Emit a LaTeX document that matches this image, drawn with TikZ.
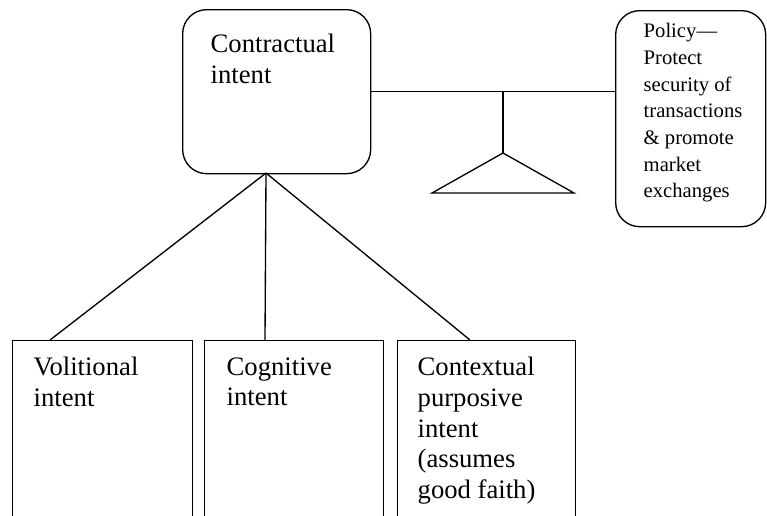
\documentclass[tikz,border=0pt]{standalone}
\usepackage{fontspec}
\setmainfont{Liberation Serif}
\begin{document}
\begin{tikzpicture}[x=0.75pt,y=-0.75pt,line width=1pt,
  rbox/.style={draw,rounded corners=18pt,inner sep=0pt,anchor=north west},
  sbox/.style={draw,inner sep=0pt,anchor=north west,minimum height=150pt},
  big/.style={font=\fontsize{20}{22.9}\selectfont,align=left,anchor=north west,inner sep=0pt},
  small/.style={font=\fontsize{15.5}{20}\selectfont,align=left,anchor=north west,inner sep=0pt}]
\useasboundingbox (0,0) rectangle (767,515);
\clip (0,0) rectangle (767,515);
% boxes
\node[rbox,minimum width=141pt,minimum height=123pt] (ci) at (182,9) {};
\node[rbox,minimum width=112.5pt,minimum height=162pt] (pol) at (615,10) {};
\node[sbox,minimum width=135pt] (vol) at (12,340) {};
\node[sbox,minimum width=134.25pt] (cog) at (204,340) {};
\node[sbox,minimum width=133.5pt] (ctx) at (397,340) {};
% texts
\node[big] (cit) at (210,33.8) {Contractual\\intent};
\node[small] (polt) at (643,22.9) {Policy---\\Protect\\security of\\transactions\\\&\ promote\\market\\exchanges};
\node[big] (volt) at (33,356.8) {Volitional\\intent};
\node[big] (cogt) at (226,356.8) {Cognitive\\intent};
\node[big] (ctxt) at (417,356.8) {Contextual\\purposive\\intent\\(assumes\\good faith)};
% connectors
\coordinate (hub) at (266,173);
\coordinate (v1) at (50,340);
\coordinate (v2) at (265,340);
\coordinate (v3) at (470,340);
\draw (hub) -- (v1);
\draw (hub) -- (v2);
\draw (hub) -- (v3);
% balance beam
\coordinate (pivot) at (503,91);
\coordinate (apex) at (503,153);
\coordinate (bl) at (432,193);
\coordinate (br) at (574,193);
\draw (ci.east) -- (pol.west |- ci.east);
\draw (pivot) -- (apex);
\draw (apex) -- (bl) -- (br) -- cycle;
\end{tikzpicture}
\end{document}
